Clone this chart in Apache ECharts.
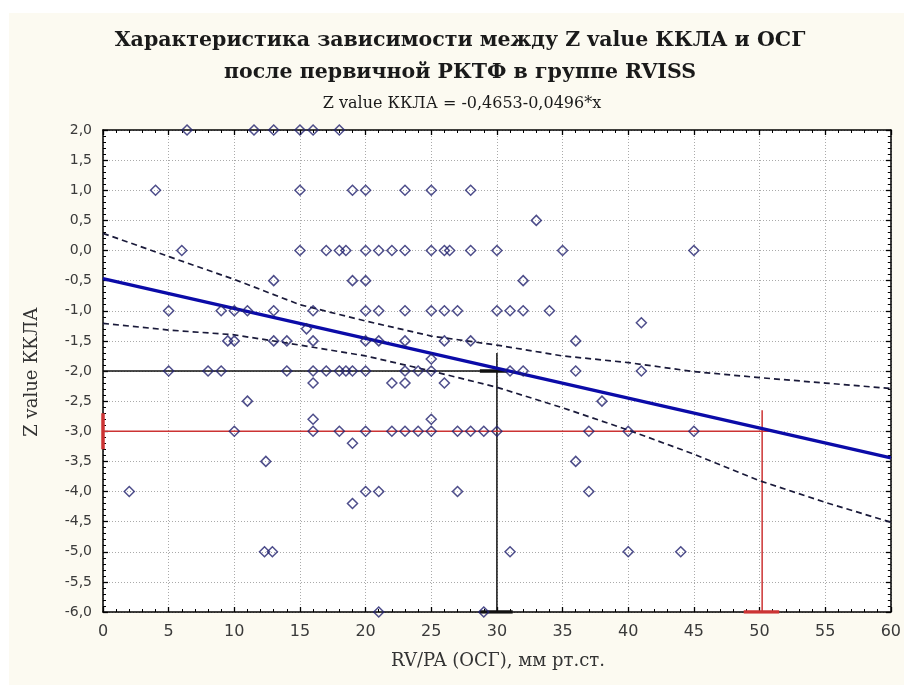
<!DOCTYPE html>
<html><head><meta charset="utf-8">
<script src="https://cdn.jsdelivr.net/npm/echarts@6/dist/echarts.min.js"></script>
<style>html,body{margin:0;padding:0;background:#fff}#c{width:904px;height:685px}</style>
</head><body><div id="c"></div>
<script>
// ---- data ----
const titleLine1 = 'Характеристика зависимости между Z value ККЛА и ОСГ';
const titleLine2 = 'после первичной РКТФ в группе RVISS';
const subtitle = 'Z value ККЛА = -0,4653-0,0496*x';
const xAxisName = 'RV/PA (ОСГ), мм рт.ст.';
const yAxisName = 'Z value ККЛА';

const pointsX = [6.4,11.5,13,15,16,18,
  4,15,19,20,23,25,28,
  33,
  6,15,17,18,18.5,20,21,22,23,25,26,26.4,28,30,35,45,
  13,19,20,32,
  5,9,10,11,13,16,20,21,23,25,26,27,30,31,32,34,
  15.5,41,
  9.5,10,13,14,16,20,21,23,26,28,36,
  25,
  5,8,9,14,16,17,18,18.5,19,20,23,24,25,31,32,36,41,
  16,22,23,26,
  11,38,
  16,25,
  10,16,18,20,22,23,24,25,27,28,29,30,37,40,45,
  19,
  12.4,36,
  2,20,21,27,37,
  19,
  12.3,12.9,31,40,44,
  21,29];
const pointsY = [2,2,2,2,2,2,
  1,1,1,1,1,1,1,
  0.5,
  0,0,0,0,0,0,0,0,0,0,0,0,0,0,0,0,
  -0.5,-0.5,-0.5,-0.5,
  -1,-1,-1,-1,-1,-1,-1,-1,-1,-1,-1,-1,-1,-1,-1,-1,
  -1.3,-1.2,
  -1.5,-1.5,-1.5,-1.5,-1.5,-1.5,-1.5,-1.5,-1.5,-1.5,-1.5,
  -1.8,
  -2,-2,-2,-2,-2,-2,-2,-2,-2,-2,-2,-2,-2,-2,-2,-2,-2,
  -2.2,-2.2,-2.2,-2.2,
  -2.5,-2.5,
  -2.8,-2.8,
  -3,-3,-3,-3,-3,-3,-3,-3,-3,-3,-3,-3,-3,-3,-3,
  -3.2,
  -3.5,-3.5,
  -4,-4,-4,-4,-4,
  -4.2,
  -5,-5,-5,-5,-5,
  -6,-6];

// regression line endpoints
const regX = [0, 60];
const regY = [-0.4653, -3.4413];
// confidence band
const bandX = [0,5,10,15,20,25,30,35,40,45,50,55,60];
const bandUpper = [0.285,-0.10,-0.48,-0.90,-1.17,-1.42,-1.57,-1.75,-1.86,-2.01,-2.11,-2.20,-2.29];
const bandLower = [-1.21,-1.32,-1.40,-1.57,-1.75,-2.00,-2.27,-2.61,-2.98,-3.38,-3.82,-4.18,-4.51];

// guide lines
const blackH = [[0,-2],[30,-2]];
const blackV = [[30,-6],[30,-1.7]];
const blackMarkA = [[28.7,-2],[30.8,-2]];
const blackMarkB = [[28.7,-6],[31.2,-6]];
const redH = [[0,-3],[51.3,-3]];
const redV = [[50.2,-6],[50.2,-2.65]];
const redMarkA = [[48.8,-6],[51.5,-6]];
const redMarkB = [[0,-2.7],[0,-3.3]];

const xTicks = {min:0, max:60, interval:5};
const yTicks = {min:-6, max:2, interval:0.5};

// ---- chart ----
const zip = (a,b) => a.map((v,i)=>[v,b[i]]);
const chart = echarts.init(document.getElementById('c'), null, {renderer:'canvas'});
const gridL=103, gridT=130, gridW=793, gridH=482;
const tickFont = 'DejaVu Sans';
function xAx(pos, labels){
  return {type:'value', position:pos, min:xTicks.min, max:xTicks.max, interval:xTicks.interval,
    axisLine:{show:true, onZero:false, lineStyle:{color:'#000', width:1.5}},
    axisTick:{show:true, inside:true, length:5, lineStyle:{color:'#000', width:1.3}},
    minorTick:{show:true, splitNumber:5, length:3, lineStyle:{color:'#000', width:1}},
    splitLine:{show:labels, lineStyle:{color:'#aaaaaa', type:[1,2], width:1}},
    axisLabel:{show:labels, fontFamily:tickFont, fontSize:16, color:'#3a3a3a', margin:12}};
}
function yAx(pos, labels){
  return {type:'value', position:pos, min:yTicks.min, max:yTicks.max, interval:yTicks.interval,
    axisLine:{show:true, onZero:false, lineStyle:{color:'#000', width:1.5}},
    axisTick:{show:true, inside:true, length:5, lineStyle:{color:'#000', width:1.3}},
    minorTick:{show:true, splitNumber:5, length:3, lineStyle:{color:'#000', width:1}},
    splitLine:{show:labels, lineStyle:{color:'#aaaaaa', type:[1,2], width:1}},
    axisLabel:{show:labels, fontFamily:tickFont, fontSize:14, color:'#3a3a3a', margin:11,
      formatter:v=>v.toFixed(1).replace('.',',')}};
}
function seg(data, color, width, type, z){
  return {type:'line', data:data, xAxisIndex:0, yAxisIndex:0, symbol:'none', silent:true,
    lineStyle:{color:color, width:width, type:type||'solid'}, z:z||3, animation:false};
}
const option = {
  animation:false,
  backgroundColor:'#ffffff',
  graphic:[
    {type:'rect', shape:{x:9,y:13,width:895,height:672}, style:{fill:'#fcfaf1'}, z:-100, silent:true},
    {type:'text', x:460, y:41, style:{text:titleLine1, fontFamily:'DejaVu Serif', fontWeight:'bold', fontSize:20.5, fill:'#1a1a1a', align:'center', verticalAlign:'middle'}},
    {type:'text', x:460, y:73, style:{text:titleLine2, fontFamily:'DejaVu Serif', fontWeight:'bold', fontSize:20.5, fill:'#1a1a1a', align:'center', verticalAlign:'middle'}},
    {type:'text', x:462, y:104, style:{text:subtitle, fontFamily:'DejaVu Serif', fontSize:16, fill:'#1a1a1a', align:'center', verticalAlign:'middle'}},
    {type:'text', x:498, y:661, style:{text:xAxisName, fontFamily:'DejaVu Serif', fontSize:18, fill:'#333', align:'center', verticalAlign:'middle'}},
    {type:'text', x:32, y:372, rotation:Math.PI/2, style:{text:yAxisName, fontFamily:'DejaVu Serif', fontSize:18, fill:'#333', align:'center', verticalAlign:'middle'}}
  ],
  grid:{left:gridL, top:gridT, width:gridW, height:gridH, show:true, backgroundColor:'#ffffff', borderColor:'#000', borderWidth:0},
  xAxis:[xAx('bottom', true), xAx('top', false)],
  yAxis:[yAx('left', true), yAx('right', false)],
  series:[
    seg(zip(bandX,bandUpper), '#1a1a3a', 1.7, [6,4], 4),
    seg(zip(bandX,bandLower), '#1a1a3a', 1.7, [6,4], 4),
    seg(blackH, '#111', 1.5),
    seg(blackV, '#111', 1.5),
    seg(blackMarkA, '#111', 3.5),
    seg(blackMarkB, '#111', 3.5),
    seg(redH, '#cc3333', 1.5),
    seg(redV, '#cc3333', 1.5),
    seg(redMarkA, '#cc3333', 3.5),
    seg(redMarkB, '#cc3333', 3.5),
    seg(zip(regX,regY), '#0b0ba8', 3.4, 'solid', 5),
    {type:'scatter', data:zip(pointsX,pointsY), symbol:'diamond', symbolSize:[10,10], z:6,
      itemStyle:{color:'rgba(255,255,255,0)', borderColor:'#22226e', borderWidth:1.5}, animation:false, clip:false}
  ]
};
chart.setOption(option);
</script></body></html>
